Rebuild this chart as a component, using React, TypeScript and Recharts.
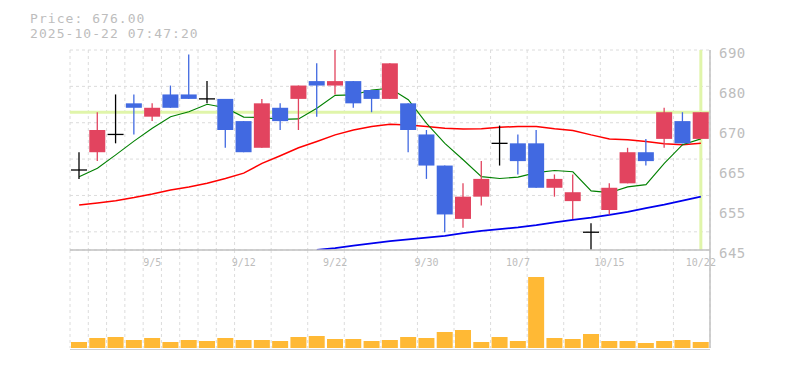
import React from 'react';
import { ComposedChart, Bar, Line, XAxis, YAxis, CartesianGrid, ReferenceLine } from 'recharts';

// ---- data ----
const dates = ['9/1','9/2','9/3','9/4','9/5','9/8','9/9','9/10','9/11','9/12','9/16','9/17','9/18','9/19','9/22','9/24','9/25','9/26','9/29','9/30','10/1','10/2','10/3','10/6','10/7','10/8','10/9','10/10','10/14','10/15','10/16','10/17','10/20','10/21','10/22'];
const opens  = [663,667,671,678,675,680,680,679,679,674,668,677,679,683,682,683,681,679,678,671,664,652,657,669,669,669,659,656,649,654,660,667,670,674,670];
const highs  = [667,676,680,680,678,682,689,683,679,674,679,678,682,687,690,683,681,687,678,672,664,660,665,673,671,672,662,662,651,660,668,670,677,676,676];
const lows   = [661,665,669,671,674,677,679,678,668,667,668,672,672,675,680,677,676,679,667,661,649,650,655,664,662,659,657,652,645,653,660,664,668,669,670];
const closes = [663,672,671,677,677,677,679,679,672,667,678,674,682,682,683,678,679,687,672,664,653,657,661,669,665,659,661,658,649,659,667,665,676,669,676];
const ma5  = [661.5,663.4,666.4,669.5,672.4,675.0,676.1,677.8,677.0,674.9,674.8,674.4,674.5,676.9,679.8,679.9,681.0,681.4,678.8,673.5,669.0,665.3,661.5,661.1,661.4,662.4,662.9,662.6,658.3,657.9,659.2,659.7,664.5,668.7,670.0];
const ma25 = [655.1,655.6,656.1,656.8,657.6,658.5,659.2,660.0,661.1,662.3,664.5,666.2,668.0,669.4,670.9,672.0,672.8,673.3,673.1,672.8,672.4,672.2,672.3,672.6,672.8,672.8,672.3,671.9,670.9,670.0,669.8,669.4,668.9,668.7,669.0];
const ma75 = [null,null,null,null,null,null,null,null,null,null,null,null,null,645.0,645.4,646.0,646.5,647.0,647.4,647.8,648.2,648.8,649.3,649.7,650.1,650.6,651.2,651.8,652.3,652.9,653.6,654.4,655.2,656.1,657.0];
const volumes = [6000,10000,11000,8000,10000,6000,8000,7000,10000,8000,8000,7000,11000,12000,9000,9000,7000,8000,11000,10000,16000,18000,6000,11000,7000,71000,10000,9000,14000,7000,7000,5000,7000,8000,6000];

const priceTickValues = [690, 681, 672, 663, 654, 645];
const priceTickLabels = ['690', '680', '670', '665', '655', '645'];
const dateTicks = ['9/5', '9/12', '9/22', '9/30', '10/7', '10/15', '10/22'];
const currentPrice = 676;
const headerPrice = 'Price: 676.00';
const headerTime = '2025-10-22 07:47:20';

const priceDomain: [number, number] = [645, 690];
const volumeDomain: [number, number] = [0, 98000];
const gridRows = 11;
const gridYTicks = Array.from({ length: gridRows + 1 }, (_, k) => priceDomain[0] + ((priceDomain[1] - priceDomain[0]) * k) / gridRows);
const gridXTicks = Array.from({ length: dates.length + 1 }, (_, k) => k);

const data = dates.map((d, i) => ({
  date: d,
  slot: i + 0.5,
  range: [lows[i], highs[i]],
  open: opens[i],
  high: highs[i],
  low: lows[i],
  close: closes[i],
  ma5: ma5[i],
  ma25: ma25[i],
  ma75: ma75[i],
  volume: volumes[i],
}));

const UP = '#e2445f';
const DOWN = '#4169e1';
const AXIS = '#c0c0c0';
const GRID = '#dcdcdc';
const TEXT = '#bdbdbd';
const FONT = "'DejaVu Sans Mono', monospace";

const Candle = (props: any) => {
  const { x, y, width, height, payload } = props;
  if (x == null || y == null) return null;
  const top = Math.min(y, y + height);
  const h = Math.abs(height);
  const { open, close, high, low } = payload;
  const span = high - low;
  const toY = (v: number) => (span === 0 ? top : top + ((high - v) / span) * h);
  const cx = x + width / 2;
  if (open === close) {
    const yy = toY(open);
    return (
      <g>
        <line x1={cx} x2={cx} y1={top} y2={top + h} stroke="#000" strokeWidth={1.3} />
        <line x1={x} x2={x + width} y1={yy} y2={yy} stroke="#000" strokeWidth={1.3} />
      </g>
    );
  }
  const color = close > open ? UP : DOWN;
  const bTop = toY(Math.max(open, close));
  const bBot = toY(Math.min(open, close));
  return (
    <g>
      <line x1={cx} x2={cx} y1={top} y2={top + h} stroke={color} strokeWidth={1.3} />
      <rect x={x} y={bTop} width={width} height={Math.max(1, bBot - bTop)} fill={color} />
    </g>
  );
};

const PriceTick = (props: any) => {
  const { x, y, payload } = props;
  const idx = priceTickValues.indexOf(payload.value);
  return (
    <text x={x} y={y} dy={8.3} textAnchor="start" fill={TEXT} fontSize={14} letterSpacing={0.5} fontFamily={FONT}>
      {idx >= 0 ? priceTickLabels[idx] : ''}
    </text>
  );
};

const DateTick = (props: any) => {
  const { x, y, payload } = props;
  return (
    <text x={x} y={y} dy={15.7} textAnchor="middle" fill={TEXT} fontSize={10} fontFamily={FONT}>
      {payload.value}
    </text>
  );
};

export default function App() {
  return (
    <div style={{ position: 'absolute', left: 0, top: 0, width: 785, height: 370, background: '#fff', overflow: 'hidden' }}>
      <div style={{ position: 'absolute', left: 0, top: 250 }}>
        <ComposedChart width={785} height={100} data={data} margin={{ top: 0, right: 0, bottom: 0, left: 70 }}>
          <XAxis xAxisId="grid" type="number" dataKey="slot" domain={[0, dates.length]} ticks={gridXTicks} hide allowDataOverflow />
          <XAxis xAxisId="cat" dataKey="date" height={2} tick={false} tickLine={false} axisLine={{ stroke: AXIS, strokeWidth: 1.5, transform: 'translate(0,2)' }} />
          <YAxis yAxisId="vol" orientation="right" width={75} domain={volumeDomain} allowDataOverflow tick={false} tickLine={false} axisLine={{ stroke: AXIS, strokeWidth: 1.5 }} />
          <CartesianGrid xAxisId="grid" yAxisId="vol" horizontal={false} stroke={GRID} strokeDasharray="3 3" />
          <Bar xAxisId="cat" yAxisId="vol" dataKey="volume" fill="#ffb935" barSize={16} isAnimationActive={false} />
        </ComposedChart>
      </div>
      <div style={{ position: 'absolute', left: 0, top: 0 }}>
        <ComposedChart width={785} height={270} data={data} margin={{ top: 50, right: 0, bottom: 0, left: 70 }}>
          <XAxis xAxisId="grid" type="number" dataKey="slot" domain={[0, dates.length]} ticks={gridXTicks} hide allowDataOverflow />
          <YAxis yAxisId="grid" type="number" domain={priceDomain} ticks={gridYTicks} hide allowDataOverflow />
          <CartesianGrid xAxisId="grid" yAxisId="grid" stroke={GRID} strokeDasharray="3 3" />
          <XAxis xAxisId="cat" dataKey="date" ticks={dateTicks} interval={0} height={20} tickSize={0} tickMargin={0} tickLine={false} axisLine={{ stroke: AXIS, strokeWidth: 1.5 }} tick={<DateTick />} />
          <YAxis yAxisId="price" orientation="right" width={75} domain={priceDomain} allowDataOverflow ticks={priceTickValues} interval={0} tickSize={0} tickMargin={9} tickLine={false} axisLine={{ stroke: AXIS, strokeWidth: 1.5 }} tick={<PriceTick />} />
          <ReferenceLine xAxisId="cat" yAxisId="price" y={currentPrice} stroke="#e0f5aa" strokeWidth={3} zIndex={50} />
          <ReferenceLine xAxisId="cat" yAxisId="price" x={dates[dates.length - 1]} stroke="#e0f5aa" strokeWidth={3} zIndex={50} />
          <Line xAxisId="cat" yAxisId="price" dataKey="ma75" stroke="#0000ee" strokeWidth={1.8} dot={false} isAnimationActive={false} zIndex={200} />
          <Line xAxisId="cat" yAxisId="price" dataKey="ma25" stroke="#ff0000" strokeWidth={1.5} dot={false} isAnimationActive={false} zIndex={200} />
          <Line xAxisId="cat" yAxisId="price" dataKey="ma5" stroke="#008000" strokeWidth={1.1} dot={false} isAnimationActive={false} zIndex={200} />
          <Bar xAxisId="cat" yAxisId="price" dataKey="range" barSize={16} shape={<Candle />} isAnimationActive={false} zIndex={300} />
        </ComposedChart>
      </div>
      <svg width={400} height={45} style={{ position: 'absolute', left: 0, top: 0 }}>
        <text x={30} y={22.5} fill={TEXT} fontSize={13} letterSpacing={1.05} fontFamily={FONT}>{headerPrice}</text>
        <text x={30} y={37.8} fill={TEXT} fontSize={13} letterSpacing={1.05} fontFamily={FONT}>{headerTime}</text>
      </svg>
    </div>
  );
}
